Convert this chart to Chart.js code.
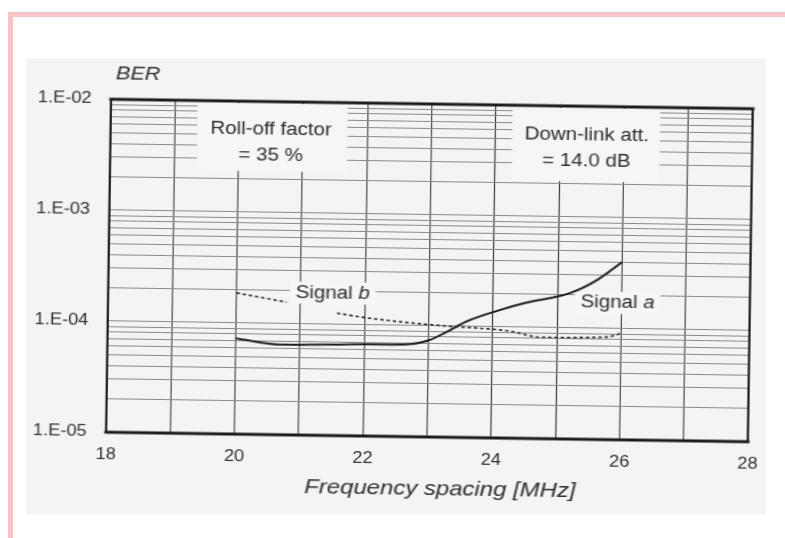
<!DOCTYPE html>
<html><head><meta charset="utf-8">
<script src="https://cdn.jsdelivr.net/npm/chart.js@4"></script>
<style>
html,body{margin:0;padding:0;background:#fff;width:785px;height:538px;overflow:hidden;}
#pinkTop{position:absolute;left:8px;top:12px;width:777px;height:5px;background:#fbc3c8;}
#pinkLeft{position:absolute;left:8px;top:12px;width:5px;height:526px;background:#fbc3c8;}
#scan{position:absolute;left:26px;top:58px;width:740px;height:456px;background:#f4f3f6;}
#wrap{position:absolute;left:0;top:0;width:745px;height:538px;transform-origin:430px 268px;transform:rotate(0.85deg) scaleX(1.14);}
canvas{display:block;}
</style></head>
<body>
<div id="pinkTop"></div><div id="pinkLeft"></div><div id="scan"></div>
<div id="wrap"><canvas id="c" width="745" height="538"></canvas></div>
<script>
// ---- data ----
const freqA = [20, 20.7, 21.5, 22.0, 22.6, 23.0, 23.3, 23.6, 24.1, 24.5, 25.2, 25.6, 26.0];
const berA  = [7.3e-5, 6.5e-5, 6.6e-5, 6.7e-5, 6.75e-5, 7.4e-5, 9.0e-5, 1.12e-4, 1.42e-4, 1.66e-4, 2.07e-4, 2.7e-4, 4.0e-4];
const freqB = [20, 20.78, 21.15, 21.57, 22.04, 23.1, 24.27, 24.74, 25.78, 26.0];
const berB  = [1.87e-4, 1.57e-4, null, 1.27e-4, 1.16e-4, 1.02e-4, 9.2e-5, 8.2e-5, 8.4e-5, 9.1e-5];
const xTickValues = [18, 20, 22, 24, 26, 28];
const xTickLabels = ['18', '20', '22', '24', '26', '28'];
const yDecades    = [1e-5, 1e-4, 1e-3, 1e-2];
const yTickLabels = ['1.E-05', '1.E-04', '1.E-03', '1.E-02'];
const yMantissas  = [1, 2, 3, 4, 5, 6, 7, 8, 9];

// ---- annotation placement (data coordinates) ----
const notes = [
  {lines: ['Roll-off factor', '= 35 %'], f: 20.5, v: 4.3e-3, box: {f0: 19.35, f1: 21.69, v1: 2.35e-3}},
  {lines: ['Down-link att.', '= 14.0 dB'], f: 25.42, v: 4.2e-3, box: {f0: 24.26, f1: 26.56, v1: 2.1e-3}}
];
const tags = [
  {parts: [['Signal ', false], ['b', true]], f: 21.5, v: 1.92e-4},
  {parts: [['Signal ', false], ['a', true]], f: 25.94, v: 1.71e-4}
];

const FONT = '"Liberation Sans", Arial, Helvetica, sans-serif';
const TXT = '#2e2e2e';

const annotate = {
  id: 'annotate',
  beforeDatasetsDraw(chart) {
    const {ctx, chartArea: ca, scales: {x, y}} = chart;
    ctx.save();
    ctx.fillStyle = '#f6f6f7';
    notes.forEach(n => {
      const x0 = x.getPixelForValue(n.box.f0), x1 = x.getPixelForValue(n.box.f1);
      const yb = y.getPixelForValue(n.box.v1);
      ctx.fillRect(x0, ca.top + 2, x1 - x0, yb - ca.top - 2);
    });
    tags.forEach(t => {
      let w = 0;
      t.parts.forEach(p => { ctx.font = (p[1] ? 'italic ' : '') + '18px ' + FONT; w += ctx.measureText(p[0]).width; });
      const cx = x.getPixelForValue(t.f), cy = y.getPixelForValue(t.v);
      ctx.fillRect(cx - w / 2 - 5, cy - 11, w + 10, 22);
    });
    ctx.restore();
  },
  afterDraw(chart) {
    const {ctx, chartArea: ca, scales: {x, y}} = chart;
    ctx.save();
    ctx.fillStyle = TXT;
    ctx.textBaseline = 'middle';
    ctx.textAlign = 'center';
    ctx.font = '18px ' + FONT;
    notes.forEach(n => {
      const cx = x.getPixelForValue(n.f), cy = y.getPixelForValue(n.v);
      const gap = 26, h = (n.lines.length - 1) * gap;
      n.lines.forEach((l, i) => ctx.fillText(l, cx, cy - h / 2 + i * gap));
    });
    ctx.textAlign = 'left';
    tags.forEach(t => {
      let w = 0;
      t.parts.forEach(p => { ctx.font = (p[1] ? 'italic ' : '') + '18px ' + FONT; w += ctx.measureText(p[0]).width; });
      let px = x.getPixelForValue(t.f) - w / 2;
      const cy = y.getPixelForValue(t.v);
      t.parts.forEach(p => {
        ctx.font = (p[1] ? 'italic ' : '') + '18px ' + FONT;
        ctx.fillText(p[0], px, cy);
        px += ctx.measureText(p[0]).width;
      });
    });
    ctx.font = 'italic 19px ' + FONT;
    ctx.fillText('BER', ca.left + 4, ca.top - 25);
    ctx.textAlign = 'center';
    ctx.font = 'italic 21px ' + FONT;
    ctx.fillText('Frequency spacing [MHz]', (ca.left + ca.right) / 2 + 12, ca.bottom + 52);
    ctx.strokeStyle = '#1b1b1b';
    ctx.lineCap = 'square';
    ctx.lineWidth = 3;
    ctx.beginPath(); ctx.moveTo(ca.left, ca.top); ctx.lineTo(ca.right, ca.top); ctx.stroke();
    ctx.beginPath(); ctx.moveTo(ca.left, ca.bottom); ctx.lineTo(ca.right, ca.bottom); ctx.stroke();
    ctx.lineWidth = 2;
    ctx.beginPath(); ctx.moveTo(ca.left, ca.top); ctx.lineTo(ca.left, ca.bottom); ctx.stroke();
    ctx.beginPath(); ctx.moveTo(ca.right, ca.top); ctx.lineTo(ca.right, ca.bottom); ctx.stroke();
    ctx.restore();
  }
};

new Chart(document.getElementById('c'), {
  type: 'line',
  data: {
    datasets: [
      {label: 'Signal a', data: freqA.map((f, i) => ({x: f, y: berA[i]})),
       borderColor: '#1c1c1c', borderWidth: 2, pointRadius: 0, cubicInterpolationMode: 'monotone', fill: false},
      {label: 'Signal b', data: freqB.map((f, i) => ({x: f, y: berB[i]})),
       borderColor: '#262626', borderWidth: 1.6, borderDash: [3, 2.5], pointRadius: 0,
       cubicInterpolationMode: 'monotone', spanGaps: false, fill: false}
    ]
  },
  options: {
    responsive: false, animation: false, devicePixelRatio: 1,
    layout: {padding: {left: 0, right: 34, top: 104, bottom: 0}},
    plugins: {legend: {display: false}, tooltip: {enabled: false}},
    scales: {
      x: {
        type: 'linear', min: 18, max: 28,
        afterFit(s) { s.height = 101; },
        grid: {color: '#3c3c3c', lineWidth: 1, drawTicks: false},
        border: {display: false},
        ticks: {stepSize: 1, autoSkip: false, maxRotation: 0, padding: 13, color: '#333',
          font: {family: FONT, size: 16},
          callback(v) { const i = xTickValues.indexOf(v); return i >= 0 ? xTickLabels[i] : ''; }}
      },
      y: {
        type: 'logarithmic', min: yDecades[0], max: yDecades[yDecades.length - 1],
        afterFit(s) { s.width = 148; },
        afterBuildTicks(s) {
          const t = [];
          for (let d = 0; d < yDecades.length - 1; d++) yMantissas.forEach(m => t.push({value: yDecades[d] * m}));
          t.push({value: yDecades[yDecades.length - 1]});
          s.ticks = t;
        },
        grid: {color: '#8a8a8a', lineWidth: 1.1, drawTicks: false},
        border: {display: false},
        ticks: {autoSkip: false, padding: 17, color: '#333', font: {family: FONT, size: 16},
          callback(v) { const i = yDecades.findIndex(d => Math.abs(v / d - 1) < 1e-6); return i >= 0 ? yTickLabels[i] : ''; }}
      }
    }
  },
  plugins: [annotate]
});
</script>
</body></html>
